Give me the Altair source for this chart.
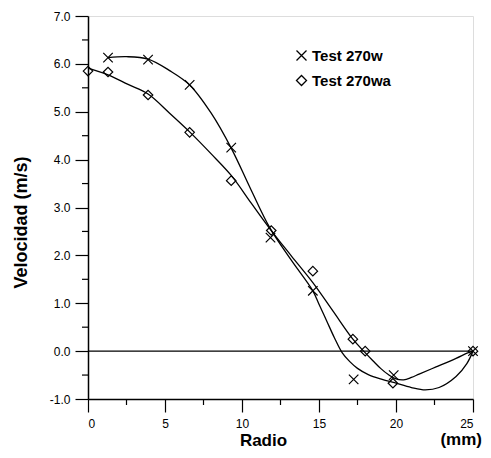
import altair as alt
import pandas as pd

# Observed points
w_x = [1.3, 3.9, 6.6, 9.3, 11.85, 14.6, 17.25, 19.85, 25.0]
w_y = [6.13, 6.09, 5.56, 4.25, 2.37, 1.26, -0.59, -0.50, 0.0]
wa_x = [0.0, 1.3, 3.9, 6.6, 9.3, 11.9, 14.6, 17.2, 18.0, 19.8, 25.0]
wa_y = [5.85, 5.83, 5.35, 4.57, 3.56, 2.52, 1.67, 0.25, 0.0, -0.67, 0.0]

# Fitted curves
fw_x = [1.3, 2.5, 3.9, 5.3, 6.6, 8.0, 9.3, 10.6, 11.8, 13.2, 14.6, 15.0, 15.5, 16.0,
        16.5, 17.0, 17.5, 18.2, 19.1, 19.9, 21.0, 21.9, 22.8, 23.9, 24.6, 25.0]
fw_y = [6.13, 6.15, 6.10, 5.86, 5.56, 4.97, 4.24, 3.36, 2.58, 1.90, 1.26, 0.98, 0.63, 0.28,
        -0.03, -0.22, -0.36, -0.49, -0.59, -0.66, -0.76, -0.81, -0.76, -0.53, -0.26, 0.0]
fwa_x = [0.0, 1.3, 2.6, 3.9, 5.3, 6.6, 8.0, 9.3, 10.6, 11.8, 13.2, 14.6, 15.9,
         17.2, 17.9, 18.5, 19.0, 19.5, 20.0, 20.5, 21.0, 21.5, 22.6, 23.9, 24.7, 25.0]
fwa_y = [5.91, 5.77, 5.57, 5.37, 4.97, 4.58, 4.12, 3.67, 3.09, 2.56, 1.99, 1.43, 0.84,
         0.25, 0.0, -0.20, -0.36, -0.49, -0.58, -0.60, -0.55, -0.48, -0.33, -0.15, -0.03, 0.0]

series = ["Test 270w", "Test 270wa"]
x_ticks = [0, 5, 10, 15, 20, 25]
x_minor = [2.5, 7.5, 12.5, 17.5, 22.5]
y_ticks = [-1, 0, 1, 2, 3, 4, 5, 6, 7]
y_minor = [-0.5, 0.5, 1.5, 2.5, 3.5, 4.5, 5.5, 6.5]
unit_label = ["(mm)"]

FONT = "Liberation Sans"
W, H = 385, 383

obs = pd.DataFrame({
    "x": w_x + wa_x,
    "y": w_y + wa_y,
    "s": [series[0]] * len(w_x) + [series[1]] * len(wa_x),
})
fit = pd.DataFrame({
    "x": fw_x + fwa_x,
    "y": fw_y + fwa_y,
    "s": [series[0]] * len(fw_x) + [series[1]] * len(fwa_x),
})

xs = alt.Scale(domain=[0, 25], nice=False, zero=False)
ys = alt.Scale(domain=[-1, 7], nice=False, zero=False)

x_axis = alt.Axis(values=x_ticks, tickSize=13, tickWidth=1.2, tickColor="black",
                  domainColor="black", domainWidth=1.5, labelPadding=6,
                  labelFont=FONT, labelFontSize=12, labelColor="black", grid=False,
                  title="Radio", titleFont=FONT, titleFontSize=17, titleFontWeight="bold",
                  titleColor="black", titleX=175, titleY=46, titleBaseline="alphabetic",
                  titleAlign="center")
y_axis = alt.Axis(values=y_ticks, tickSize=13, tickWidth=1.2, tickColor="black",
                  domainColor="black", domainWidth=1.5, labelPadding=5,
                  labelFont=FONT, labelFontSize=12, labelColor="black", grid=False,
                  labelExpr="(datum.value < 0 ? '-' : '') + format(abs(datum.value), '.1f')",
                  title="Velocidad (m/s)", titleFont=FONT, titleFontSize=18,
                  titleFontWeight="bold", titleColor="black", titleX=-67, titleY=206,
                  titleAngle=270, titleBaseline="middle", titleAlign="center")


def X(field):
    return alt.X(field, scale=xs, axis=x_axis, title="Radio")


def Y(field):
    return alt.Y(field, scale=ys, axis=y_axis, title="Velocidad (m/s)")


lines = alt.Chart(fit).mark_line(color="black", strokeWidth=1.3, interpolate="catmull-rom").encode(
    x=X("x:Q"),
    y=Y("y:Q"),
    detail="s:N",
)

zero = alt.Chart(pd.DataFrame({"y": [0]})).mark_rule(color="black", strokeWidth=1.2).encode(
    y=Y("y:Q")
)

points = alt.Chart(obs).mark_point(color="black", filled=False, strokeWidth=1.2, size=90,
                                   opacity=1).encode(
    x=X("x:Q"),
    y=Y("y:Q"),
    shape=alt.Shape("s:N",
                    scale=alt.Scale(domain=series, range=["M-1,-1L1,1M-1,1L1,-1", "diamond"]),
                    legend=alt.Legend(title=None, orient="none", legendX=206, legendY=32,
                                      labelFont=FONT, labelFontSize=15, labelFontWeight="bold",
                                      labelColor="black", symbolSize=100, symbolStrokeWidth=1.3,
                                      symbolStrokeColor="black", symbolOpacity=1,
                                      labelOffset=3, rowPadding=8, padding=0)),
)

xminor = alt.Chart(pd.DataFrame({"x": x_minor})).mark_rule(color="black", strokeWidth=1.2).encode(
    x=X("x:Q"),
    y=alt.value(H),
    y2=alt.value(H + 6),
)
yminor = alt.Chart(pd.DataFrame({"y": y_minor})).mark_rule(color="black", strokeWidth=1.2).encode(
    y=Y("y:Q"),
    x=alt.value(0),
    x2=alt.value(-6),
)

unit = alt.Chart(pd.DataFrame({"t": unit_label})).mark_text(
    font=FONT, fontSize=17, fontWeight="bold", color="black", align="right",
    baseline="alphabetic").encode(
    text="t:N", x=alt.value(W + 9), y=alt.value(H + 46)
)

chart = alt.layer(lines, zero, points, xminor, yminor, unit).properties(
    width=W, height=H,
    autosize=alt.AutoSizeParams(type="none"),
    padding={"left": 80, "top": 8, "right": 10, "bottom": 51},
).configure_view(stroke=None).configure(background="white")

chart.save("out.html", embed_options={"renderer": "svg", "actions": False})
